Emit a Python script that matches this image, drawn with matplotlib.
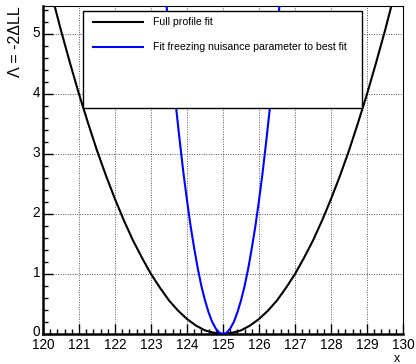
import matplotlib
matplotlib.use("Agg")
import matplotlib.pyplot as plt
import matplotlib.transforms as mtransforms
from matplotlib.patches import Rectangle
from matplotlib.lines import Line2D
from matplotlib.ticker import MultipleLocator

plt.rcParams['font.family'] = ['Liberation Sans', 'DejaVu Sans']

# full profile likelihood scan
x_full = [120.0, 120.25, 120.5, 120.75, 121.0, 121.25, 121.5, 121.75, 122.0, 122.25,
          122.5, 122.75, 123.0, 123.25, 123.5, 123.75, 124.0, 124.25, 124.5, 124.75,
          125.0, 125.25, 125.5, 125.75, 126.0, 126.25, 126.5, 126.75, 127.0, 127.25,
          127.5, 127.75, 128.0, 128.25, 128.5, 128.75, 129.0, 129.25, 129.5, 129.75, 130.0]
lam_full = [6.25, 5.64, 5.06, 4.52, 4.0, 3.52, 3.06, 2.64, 2.25, 1.89,
            1.56, 1.27, 1.0, 0.77, 0.56, 0.39, 0.25, 0.14, 0.06, 0.02,
            0.0, 0.02, 0.06, 0.14, 0.25, 0.39, 0.56, 0.77, 1.0, 1.27,
            1.56, 1.89, 2.25, 2.64, 3.06, 3.52, 4.0, 4.52, 5.06, 5.64, 6.25]

# scan with the nuisance parameter frozen at its best-fit value
x_frozen = [123.4, 123.5, 123.6, 123.7, 123.8, 123.9, 124.0, 124.1, 124.2, 124.3,
            124.4, 124.5, 124.6, 124.7, 124.8, 124.9, 125.0, 125.1, 125.2, 125.3,
            125.4, 125.5, 125.6, 125.7, 125.8, 125.9, 126.0, 126.1, 126.2, 126.3,
            126.4, 126.5, 126.6]
lam_frozen = [5.70, 5.01, 4.37, 3.76, 3.21, 2.69, 2.23, 1.80, 1.43, 1.09,
              0.80, 0.56, 0.36, 0.20, 0.09, 0.02, 0.0, 0.02, 0.09, 0.20,
              0.36, 0.56, 0.80, 1.09, 1.43, 1.80, 2.23, 2.69, 3.21, 3.76,
              4.37, 5.01, 5.70]

labels = ["Full profile fit", "Fit freezing nuisance parameter to best fit"]
colors = ["black", "#0000ff"]

fig = plt.figure(figsize=(4.16, 3.64), dpi=100)
ax = fig.add_axes([43 / 416, 30 / 364, 360 / 416, 328 / 364])

ax.plot(x_full, lam_full, color=colors[0], lw=1.5, zorder=3)
ax.plot(x_frozen, lam_frozen, color=colors[1], lw=1.5, zorder=3)

ax.set_xlim(120, 130)
ax.set_ylim(0, 5.47)

ax.xaxis.set_major_locator(MultipleLocator(1))
ax.xaxis.set_minor_locator(MultipleLocator(0.2))
ax.yaxis.set_major_locator(MultipleLocator(1))
ax.yaxis.set_minor_locator(MultipleLocator(0.2))
ax.tick_params(which='both', direction='in', top=False, right=False, width=1.0)
ax.tick_params(which='major', length=7, labelsize=9.8)
ax.tick_params(axis='x', which='major', pad=3)
ax.tick_params(axis='y', which='major', pad=2)
ax.tick_params(which='minor', length=3.5)

# lift the y labels a touch so "0" clears "120"
lift = mtransforms.ScaledTranslation(0, 3 / 100, fig.dpi_scale_trans)
for lbl in ax.get_yticklabels():
    lbl.set_transform(lbl.get_transform() + lift)

ax.grid(True, which='major', color='#555555', lw=0.7, linestyle=(0, (1, 1.5)))
ax.set_axisbelow(True)

ax.spines['left'].set_linewidth(1.8)
ax.spines['bottom'].set_linewidth(1.8)
ax.spines['top'].set_linewidth(0.8)
ax.spines['right'].set_linewidth(0.8)

ax.set_ylabel("\u039b = -2\u0394LL", fontsize=11.5, loc='top', labelpad=7)
# axis title sits under the right end of the x axis
fig.text(397 / 416, 1 - 362 / 364, "x", fontsize=9, ha='center', va='baseline')

# legend box drawn in axes coordinates
box = Rectangle((0.111, 0.689), 0.775, 0.296, transform=ax.transAxes,
                facecolor='white', edgecolor='black', lw=1.0, zorder=5)
ax.add_patch(box)
for i, (lab, col) in enumerate(zip(labels, colors)):
    yy = 0.951 - i * 0.076
    ax.add_line(Line2D([0.139, 0.278], [yy, yy], transform=ax.transAxes,
                       color=col, lw=1.5, zorder=6))
    ax.text(0.306, yy, lab, transform=ax.transAxes, fontsize=7.6,
            va='center', ha='left', zorder=6)

fig.savefig("out.png", dpi=100)
